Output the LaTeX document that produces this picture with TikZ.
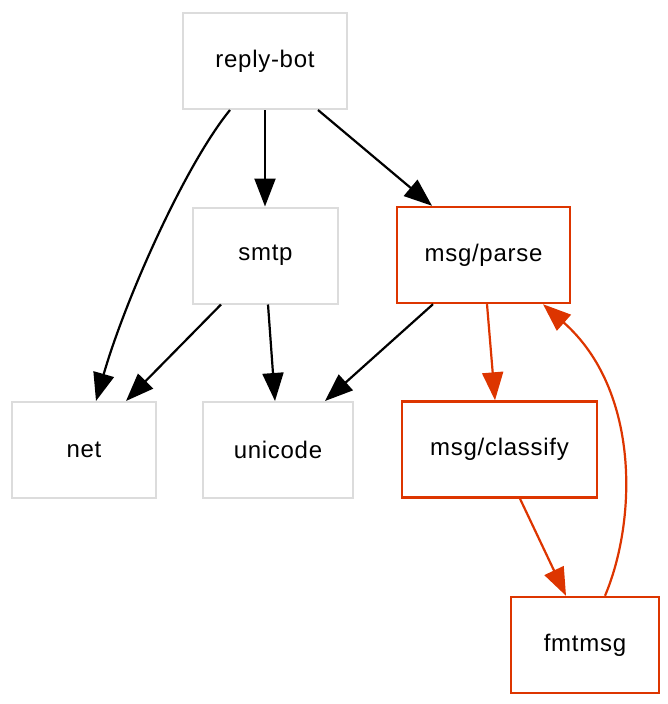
\documentclass[tikz,border=0pt]{standalone}
\usepackage{fontspec}
\newfontfamily\lab[LetterSpace=3]{Liberation Sans}
\usetikzlibrary{arrows.meta}
\definecolor{boxgray}{HTML}{DCDCDC}
\definecolor{hired}{HTML}{DD3500}
\begin{document}
\begin{tikzpicture}[x=1pt,y=-1pt,
  box/.style={draw=boxgray,line width=2pt,rectangle,inner sep=0pt,minimum height=96pt,font=\lab\fontsize{24}{28}\selectfont,text=black},
  redbox/.style={box,draw=hired,line width=2.4pt},
  edge/.style={line width=2.2pt,-{Triangle[length=28pt,width=21pt]}},
  rededge/.style={edge,draw=hired}
]
\useasboundingbox (0,0) rectangle (668,704);
\node[box,minimum width=164pt] (rb) at (265,61) {reply-bot};
\node[box,minimum width=145pt] (smtp) at (265.5,255.5) {smtp};
\node[redbox,minimum width=173pt] (parse) at (483.5,255) {msg/parse};
\node[box,minimum width=144pt] (net) at (84,450) {net};
\node[box,minimum width=150pt] (uni) at (278,450) {unicode};
\node[redbox,minimum width=195pt] (cls) at (499.5,449.5) {msg/classify};
\node[redbox,minimum width=148pt] (fmt) at (585,645) {fmtmsg};

\draw[edge] ([xshift=-35pt]rb.south) .. controls (185,165) and (125,300) .. ([xshift=12pt]net.north);
\draw[edge] (rb.south) -- (smtp.north -| rb.south);
\draw[edge] ([xshift=53pt]rb.south) -- ([xshift=-51.5pt]parse.north);
\draw[edge] ([xshift=-44.5pt]smtp.south) -- ([xshift=42pt]net.north);
\draw[edge] ([xshift=2.5pt]smtp.south) -- ([xshift=-3pt]uni.north);
\draw[edge] ([xshift=-50.5pt]parse.south) -- ([xshift=47pt]uni.north);
\draw[rededge] ([xshift=3.5pt]parse.south) -- ([xshift=-4.5pt]cls.north);
\draw[rededge] ([xshift=20.5pt]cls.south) -- ([xshift=-19pt]fmt.north);
\draw[rededge] ([xshift=20pt]fmt.north) .. controls (637,520) and (640,390) .. ([xshift=59.5pt]parse.south);
\end{tikzpicture}
\end{document}
